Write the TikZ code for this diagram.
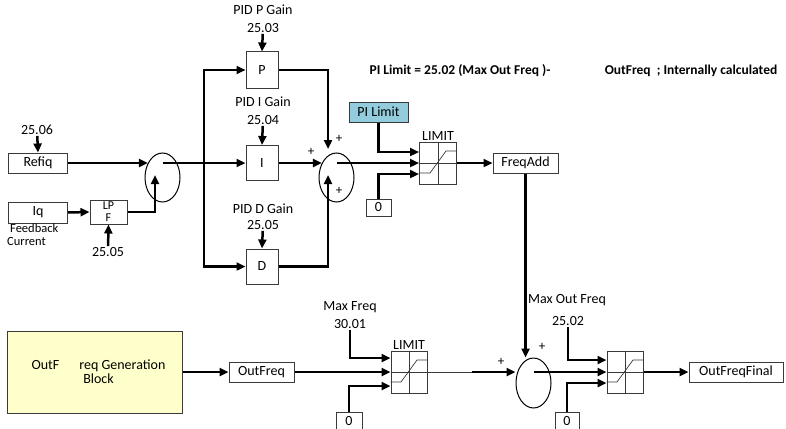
\documentclass[tikz,border=0pt]{standalone}
\usepackage{fontspec}
\setmainfont{Carlito}
\usepackage{tikz}
\usetikzlibrary{arrows.meta,positioning,shapes.geometric,calc}
\definecolor{limitblue}{HTML}{93CDDD}
\definecolor{blockyellow}{HTML}{FFFFCC}
\definecolor{boxgray}{HTML}{3A3A3A}
\tikzset{
  >={Triangle[length=9pt,width=8pt]},
  blk/.style={draw=boxgray,line width=1pt,inner sep=0pt,font=\fontsize{14}{10}\selectfont},
  lbl/.style={inner sep=1pt,font=\fontsize{14}{14}\selectfont},
  plus/.style={inner sep=0pt,font=\fontsize{13}{13}\selectfont},
  hdr/.style={inner sep=0pt,font=\bfseries\fontsize{13.5}{14}\selectfont},
  sig/.style={line width=2.5pt},
  arr/.style={sig,->},
  sumnode/.style={draw,ellipse,line width=1pt,minimum width=35pt,minimum height=49pt,inner sep=0pt},
  limnode/.style={blk,minimum width=37pt,minimum height=42pt},
}

\begin{document}
\begin{tikzpicture}[x=1pt,y=-1pt]
  \useasboundingbox (0,0) rectangle (786,428);
  % headers
  \node[hdr] (hdr1) at (460,71) {PI Limit = 25.02 (Max Out Freq )-};
  \node[hdr] (hdr2) at (691,71) {OutFreq~ ; Internally calculated};

  % input side
  \node[lbl] (g2506) at (37,130) {25.06};
  \node[blk,minimum width=59pt,minimum height=20pt] (refiq) at (38,163) {Refiq};
  \node[blk,minimum width=59pt,minimum height=21pt] (iq) at (38,212.5) {Iq};
  \node[lbl,align=left,anchor=north west,inner sep=0pt,font=\fontsize{12.5}{12.5}\selectfont] (fbtxt) at (7,224) {\hspace{3pt}Feedback\\Current};
  \node[blk,minimum width=37pt,minimum height=24pt,align=center,font=\fontsize{12}{12}\selectfont] (lpf) at (108.5,212) {LP\\F};
  \node[lbl] (g2505a) at (108,252) {25.05};
  \node[sumnode] (sum1) at (162.5,177.5) {};
  \coordinate (s1in) at (155,175);
  \coordinate (bus) at (204,163);

  % PID blocks
  \node[lbl] (pgain) at (263,10) {PID P Gain};
  \node[lbl] (g2503) at (263,28) {25.03};
  \node[blk,minimum width=32pt,minimum height=36pt] (P) at (262,70) {P};
  \node[lbl] (igain) at (263,102) {PID I Gain};
  \node[lbl] (g2504) at (263,120) {25.04};
  \node[blk,minimum width=32pt,minimum height=35pt] (I) at (262,163) {I};
  \node[lbl] (dgain) at (263,209) {PID D Gain};
  \node[lbl] (g2505b) at (263,225) {25.05};
  \node[blk,minimum width=32pt,minimum height=35pt] (D) at (262,266.5) {D};
  \node[sumnode] (sum2) at (336.5,177.5) {};
  \coordinate (s2top) at (328,149);
  \coordinate (s2bot) at (328,175);
  \node[plus] at (311,152) {+};
  \node[plus] at (339,139) {+};
  \node[plus] at (339,191) {+};

  % PI limit
  \node[blk,fill=limitblue,minimum width=59pt,minimum height=20pt] (pilim) at (378.5,112) {PI Limit};
  \node[limnode] (lim1) at (438,163) {};
  \node[lbl,above=0pt of lim1] {LIMIT};
  \node[blk,minimum width=25pt,minimum height=17pt] (zero1) at (378.5,207.5) {0};
  \node[blk,minimum width=65pt,minimum height=20pt] (freqadd) at (525.5,163) {FreqAdd};

  % lower chain
  \node[blk,fill=blockyellow,minimum width=175pt,minimum height=82pt,align=center,font=\fontsize{14}{14}\selectfont] (gen) at (94.5,372) {\hspace{8pt}OutF\hspace{20pt}req Generation\\\hspace{8pt}Block};
  \node[blk,minimum width=65pt,minimum height=20pt] (outfreq) at (261.5,372) {OutFreq};
  \node[lbl] (mfreq) at (350,307) {Max Freq};
  \node[lbl] (g3001) at (350,324) {30.01};
  \node[limnode,minimum width=36pt] (lim2) at (409,372) {};
  \node[lbl,above=0pt of lim2] {LIMIT};
  \node[blk,minimum width=26pt,minimum height=17pt] (zero2) at (349,420.5) {0};
  \coordinate (l2out) at (472,372);
  \node[sumnode,minimum height=50pt] (sum3) at (533.5,383) {};
  \node[plus] at (501,362) {+};
  \node[plus] at (542,347) {+};
  \node[lbl] (mofreq) at (567,300) {Max Out Freq};
  \node[lbl] (g2502) at (568,321) {25.02};
  \node[limnode,minimum width=36pt] (lim3) at (625,372) {};
  \node[blk,minimum width=24pt,minimum height=17pt] (zero3) at (567,420.5) {0};
  \node[blk,minimum width=94pt,minimum height=20pt] (outfin) at (736,372) {OutFreqFinal};

  % limit characteristics
  \foreach \n in {lim1,lim2,lim3} {
    \draw[boxgray,line width=0.7pt] (\n.north) -- (\n.south) (\n.west) -- (\n.east);
    \draw[boxgray,line width=0.7pt] ($(\n.west)+(0,10)$) -- ($(\n.center)+(-8,10)$)
      -- ($(\n.center)+(8,-12)$) -- ($(\n.east)+(0,-12)$);
  }

  % connectors, top
  \draw[arr] (g2506) -- (refiq.north);
  \draw[arr] (refiq.east) -- (refiq.east -| sum1.135);
  \draw[arr] (iq.east) -- (lpf.west);
  \draw[arr] (g2505a) -- (lpf.south);
  \draw[arr] (lpf.east) -| (s1in);
  \draw[arr] (sum1.center |- I.west) -- (I.west);
  \draw[sig,<->] (P.west) -| (bus) |- (D.west);
  \draw[arr] (g2503) -- (P.north);
  \draw[arr] (g2504) -- (I.north);
  \draw[arr] (g2505b) -- (D.north);
  \draw[arr] (P.east) -| (s2top);
  \draw[arr] (D.east) -| (s2bot);
  \draw[arr] (I.east) -- (I.east -| sum2.135);
  \draw[arr] (pilim.south) |- ($(lim1.west)+(0,-11)$);
  \draw[arr] (sum2.center |- lim1.west) -- (lim1.west);
  \draw[arr] (zero1.north) |- ($(lim1.west)+(0,11)$);
  \draw[arr] (lim1.east) -- (freqadd.west);
  \draw[arr] (freqadd.south) -- (freqadd.south |- sum3.north);

  % connectors, bottom
  \draw[arr] (gen.east) -- (outfreq.west);
  \draw[arr] (outfreq.east) -- (lim2.west);
  \draw[arr] (g3001) |- ($(lim2.west)+(0,-14)$);
  \draw[arr] (zero2.north) |- ($(lim2.west)+(0,14)$);
  \draw[boxgray,line width=0.7pt] (lim2.east) -- (l2out);
  \draw[arr] (l2out) -- (lim2.east -| sum3.west);
  \draw[arr] (sum3.center |- lim3.west) -- (lim3.west);
  \draw[arr] (g2502) |- ($(lim3.west)+(0,-12)$);
  \draw[arr] (zero3.north) |- ($(lim3.west)+(0,11)$);
  \draw[arr] (lim3.east) -- (outfin.west);
\end{tikzpicture}
\end{document}
